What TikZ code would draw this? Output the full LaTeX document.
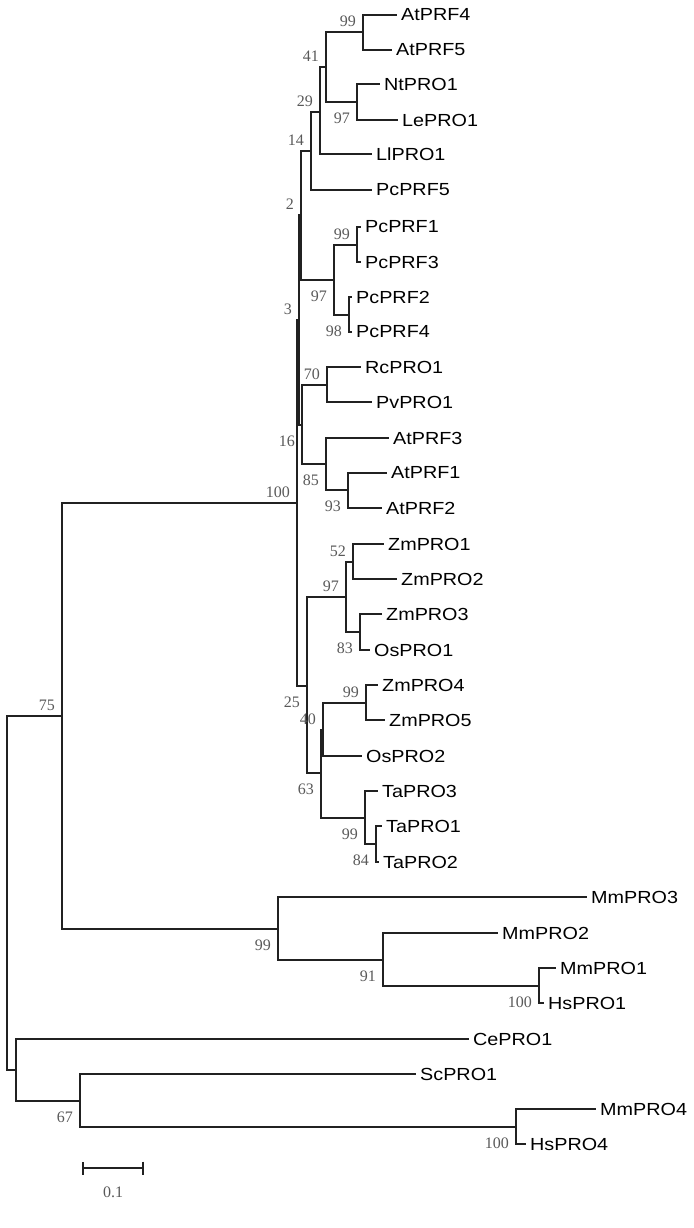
\documentclass[tikz,border=0pt]{standalone}
\usepackage{fontspec}
\newfontfamily\leaffont[FakeStretch=1.13]{Liberation Sans}
\newfontfamily\bootfont{Liberation Serif}
\usetikzlibrary{arrows.meta}
\definecolor{treeline}{rgb}{0.13,0.13,0.13}
\definecolor{bootgray}{rgb}{0.35,0.35,0.35}

\begin{document}
\begin{tikzpicture}[x=1pt, y=-1pt,
    branch/.style={draw=treeline, line width=1.8pt},
    leaf/.style={anchor=west, inner xsep=4pt, inner ysep=0pt, font=\leaffont\fontsize{17.5}{18}\selectfont},
    bsup/.style={anchor=south east, inner sep=0pt, xshift=-7pt, yshift=5pt, text=bootgray, font=\bootfont\fontsize{16}{16}\selectfont},
    bsdown/.style={anchor=north east, inner sep=0pt, xshift=-7pt, yshift=-11pt, text=bootgray, font=\bootfont\fontsize{16}{16}\selectfont}
]
\useasboundingbox (0,0) rectangle (693,1228);

% internal nodes
\coordinate (root) at (7,893);
\coordinate (n75) at (62,716);
\coordinate (nCe) at (16,1070);
\coordinate (n67) at (80,1101);
\coordinate (n100c) at (516,1127);
\coordinate (n99f) at (278,929);
\coordinate (n91) at (383,960);
\coordinate (n100b) at (539,986);
\coordinate (n100) at (297,503);
\coordinate (n3) at (299,320);
\coordinate (n2) at (301,215);
\coordinate (n14) at (311,151);
\coordinate (n29) at (320,112);
\coordinate (n41) at (326,67);
\coordinate (n99a) at (363,32);
\coordinate (n97a) at (357,102);
\coordinate (n97) at (334,280);
\coordinate (n99b) at (357,245);
\coordinate (n98) at (349,315);
\coordinate (n16) at (302,425);
\coordinate (n70) at (327,385);
\coordinate (n85) at (326,464);
\coordinate (n93) at (348,490);
\coordinate (n25) at (307,686);
\coordinate (n97c) at (346,597);
\coordinate (n52) at (353,562);
\coordinate (n83) at (360,632);
\coordinate (n63) at (321,773);
\coordinate (n40) at (323,730);
\coordinate (n99d) at (366,703);
\coordinate (n99e) at (365,818);
\coordinate (n84) at (376,844);

% leaves
\node[leaf] (AtPRF4) at (397,15) {AtPRF4};
\node[leaf] (AtPRF5) at (392,50) {AtPRF5};
\node[leaf] (NtPRO1) at (380,84) {NtPRO1};
\node[leaf] (LePRO1) at (398,120) {LePRO1};
\node[leaf] (LlPRO1) at (372,154) {LlPRO1};
\node[leaf] (PcPRF5) at (372,190) {PcPRF5};
\node[leaf] (PcPRF1) at (361,227) {PcPRF1};
\node[leaf] (PcPRF3) at (361,262) {PcPRF3};
\node[leaf] (PcPRF2) at (352,297) {PcPRF2};
\node[leaf] (PcPRF4) at (352,332) {PcPRF4};
\node[leaf] (RcPRO1) at (361,367) {RcPRO1};
\node[leaf] (PvPRO1) at (372,402) {PvPRO1};
\node[leaf] (AtPRF3) at (389,438) {AtPRF3};
\node[leaf] (AtPRF1) at (387,473) {AtPRF1};
\node[leaf] (AtPRF2) at (382,508) {AtPRF2};
\node[leaf] (ZmPRO1) at (384,544) {ZmPRO1};
\node[leaf] (ZmPRO2) at (397,579) {ZmPRO2};
\node[leaf] (ZmPRO3) at (382,614) {ZmPRO3};
\node[leaf] (OsPRO1) at (370,650) {OsPRO1};
\node[leaf] (ZmPRO4) at (378,685) {ZmPRO4};
\node[leaf] (ZmPRO5) at (385,720) {ZmPRO5};
\node[leaf] (OsPRO2) at (362,756) {OsPRO2};
\node[leaf] (TaPRO3) at (378,791) {TaPRO3};
\node[leaf] (TaPRO1) at (382,826) {TaPRO1};
\node[leaf] (TaPRO2) at (379,862) {TaPRO2};
\node[leaf] (MmPRO3) at (587,897) {MmPRO3};
\node[leaf] (MmPRO2) at (498,933) {MmPRO2};
\node[leaf] (MmPRO1) at (556,968) {MmPRO1};
\node[leaf] (HsPRO1) at (544,1003) {HsPRO1};
\node[leaf] (CePRO1) at (469,1039) {CePRO1};
\node[leaf] (ScPRO1) at (416,1074) {ScPRO1};
\node[leaf] (MmPRO4) at (596,1109) {MmPRO4};
\node[leaf] (HsPRO4) at (526,1144) {HsPRO4};

% branches between internal nodes
\foreach \p/\c in {root/n75, root/nCe, n75/n100, n75/n99f, nCe/n67, n67/n100c,
    n99f/n91, n91/n100b, n100/n3, n100/n25, n3/n2, n3/n16, n2/n14, n2/n97,
    n14/n29, n29/n41, n41/n99a, n41/n97a, n97/n99b, n97/n98, n16/n70, n16/n85,
    n85/n93, n25/n97c, n25/n63, n97c/n52, n97c/n83, n63/n40, n63/n99e,
    n40/n99d, n99e/n84}
    \draw[branch] (\p) |- (\c);

% branches to leaves
\foreach \p/\c in {n99a/AtPRF4, n99a/AtPRF5, n97a/NtPRO1, n97a/LePRO1,
    n29/LlPRO1, n14/PcPRF5, n99b/PcPRF1, n99b/PcPRF3, n98/PcPRF2, n98/PcPRF4,
    n70/RcPRO1, n70/PvPRO1, n85/AtPRF3, n93/AtPRF1, n93/AtPRF2,
    n52/ZmPRO1, n52/ZmPRO2, n83/ZmPRO3, n83/OsPRO1, n99d/ZmPRO4, n99d/ZmPRO5,
    n40/OsPRO2, n99e/TaPRO3, n84/TaPRO1, n84/TaPRO2, n99f/MmPRO3, n91/MmPRO2,
    n100b/MmPRO1, n100b/HsPRO1, nCe/CePRO1, n67/ScPRO1, n100c/MmPRO4, n100c/HsPRO4}
    \draw[branch] (\p) |- (\c.west);

% bootstrap values
\node[bsup] (b75) at (n75) {75};
\node[bsdown] (b67) at (n67) {67};
\node[bsdown] (b100c) at (n100c) {100};
\node[bsdown] (b99f) at (n99f) {99};
\node[bsdown] (b91) at (n91) {91};
\node[bsdown] (b100b) at (n100b) {100};
\node[bsup] (b100) at (n100) {100};
\node[bsup] (b3) at (n3) {3};
\node[bsup] (b2) at (n2) {2};
\node[bsup] (b14) at (n14) {14};
\node[bsup] (b29) at (n29) {29};
\node[bsup] (b41) at (n41) {41};
\node[bsup] (b99a) at (n99a) {99};
\node[bsdown] (b97a) at (n97a) {97};
\node[bsdown] (b97) at (n97) {97};
\node[bsup] (b99b) at (n99b) {99};
\node[bsdown] (b98) at (n98) {98};
\node[bsdown] (b16) at (n16) {16};
\node[bsup] (b70) at (n70) {70};
\node[bsdown] (b85) at (n85) {85};
\node[bsdown] (b93) at (n93) {93};
\node[bsdown] (b25) at (n25) {25};
\node[bsup] (b97c) at (n97c) {97};
\node[bsup] (b52) at (n52) {52};
\node[bsdown] (b83) at (n83) {83};
\node[bsdown] (b63) at (n63) {63};
\node[bsup] (b40) at (n40) {40};
\node[bsup] (b99d) at (n99d) {99};
\node[bsdown] (b99e) at (n99e) {99};
\node[bsdown] (b84) at (n84) {84};

% scale bar
\coordinate (sbl) at (82,1168);
\coordinate (sbr) at (144,1168);
\draw[branch, {Bar[width=13pt]}-{Bar[width=13pt]}] (sbl) -- (sbr);
\node[text=bootgray, font=\bootfont\fontsize{16}{16}\selectfont] (sblab) at (113,1192) {0.1};

\end{tikzpicture}
\end{document}
